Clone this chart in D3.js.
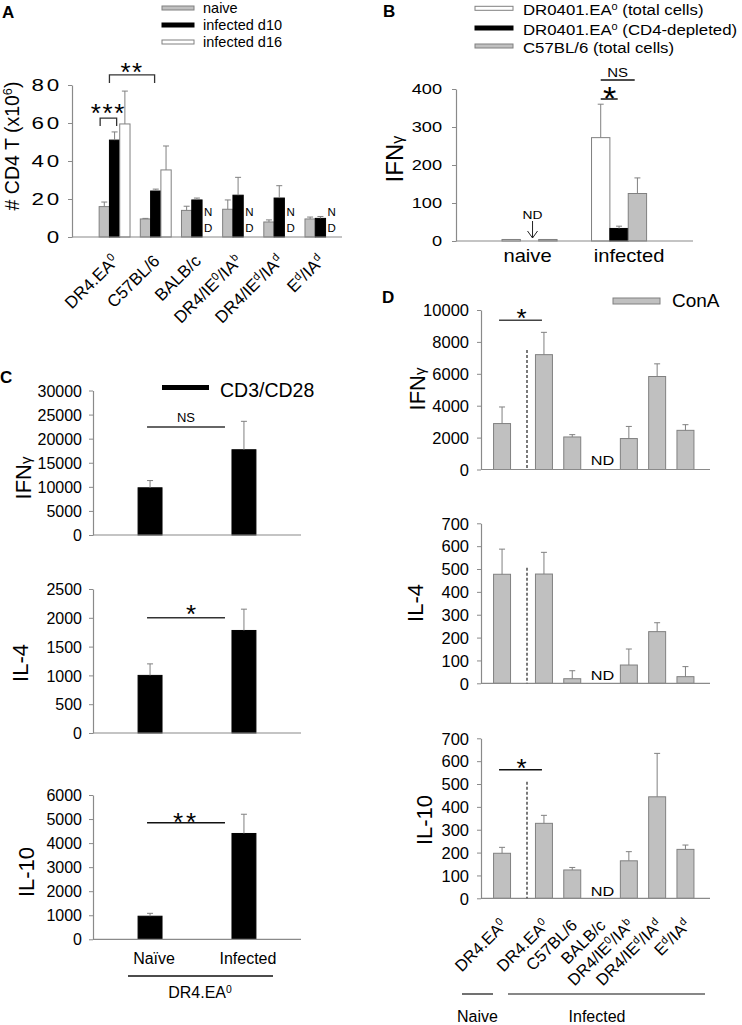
<!DOCTYPE html>
<html><head><meta charset="utf-8">
<script src="https://cdn.jsdelivr.net/npm/d3@7"></script>
<style>
body{margin:0;background:#fff}
svg{display:block}
text{font-family:"Liberation Sans",Arial,sans-serif;fill:#000}
</style>
</head><body>
<svg id="c" width="742" height="1025"></svg>
<script>
// ---------------- DATA ----------------
// Panel A: # CD4 T (x10^6)
const A_strains = ["DR4.EA^0","C57BL/6","BALB/c","DR4/IE^0/IA^b","DR4/IE^d/IA^d","E^d/IA^d"];
const A_series = ["naive","infected d10","infected d16"];
const A_naive    = [16, 9.5, 14, 14.6, 7.9, 9.5];
const A_naiveErr = [2.4, 0.3, 2.2, 4.9, 1.1, 1.0];
const A_d10      = [51, 24.2, 19.5, 22, 20.5, 9.8];
const A_d10Err   = [4.3, 1.0, 1.0, 9.4, 6.5, 1.0];
const A_d16      = [59.5, 35.3, null, null, null, null];
const A_d16Err   = [17.3, 12.6, null, null, null, null];
const A_ticks = [0,20,40,60,80];

// Panel B: IFNγ
const B_groups = ["naive","infected"];
const B_series = ["DR0401.EA^0 (total cells)","DR0401.EA^0 (CD4-depleted)","C57BL/6 (total cells)"];
const B_total     = [4, 272];
const B_totalErr  = [0, 88];
const B_depleted  = [null, 33];
const B_depletedErr = [0, 6];
const B_c57       = [4, 125];
const B_c57Err    = [0, 41];
const B_ticks = [0,100,200,300,400];

// Panel C: CD3/CD28, DR4.EA0
const C_groups = ["Naïve","Infected"];
const C_ifng = [9800, 17700],  C_ifngErr = [1500, 5900];
const C_il4  = [1000, 1780],   C_il4Err  = [200, 370];
const C_il10 = [960, 4400],    C_il10Err = [120, 800];
const C_ifngTicks = [0,5000,10000,15000,20000,25000,30000];
const C_il4Ticks  = [0,500,1000,1500,2000,2500];
const C_il10Ticks = [0,1000,2000,3000,4000,5000,6000];

// Panel D: ConA
const D_naiveStrains = ["DR4.EA^0"];
const D_infStrains = ["DR4.EA^0","C57BL/6","BALB/c","DR4/IE^0/IA^b","DR4/IE^d/IA^d","E^d/IA^d"];
const D_ifngNaive = [2880], D_ifngNaiveErr = [1040];
const D_ifngInf = [7200, 2040, null, 1940, 5830, 2455];
const D_ifngInfErr = [1400, 145, null, 760, 795, 355];
const D_il4Naive = [477], D_il4NaiveErr = [110];
const D_il4Inf = [478, 20, null, 80, 226, 29];
const D_il4InfErr = [95, 35, null, 70, 39, 44];
const D_il10Naive = [197], D_il10NaiveErr = [26];
const D_il10Inf = [328, 124, null, 164, 444, 214];
const D_il10InfErr = [35, 11, null, 40, 190, 19];
const D_ifngTicks = [0,2000,4000,6000,8000,10000];
const D_ilTicks = [0,100,200,300,400,500,600,700];

// ---------------- HELPERS ----------------
const svg = d3.select("#c");
const AXC = "#8a8a8a";
const GREY = "#c0c0c0";

function rich(t, s){
  s.split(/(\^.|~.)/).forEach(p=>{
    if(!p) return;
    if(p[0]==='^') t.append("tspan").attr("baseline-shift","super").attr("font-size","65%").text(p[1]);
    else if(p[0]==='~') t.append("tspan").attr("font-size","68%").text(p[1]);
    else t.append("tspan").text(p);
  });
}
function txt(g,x,y,s,o={}){
  let tr = `translate(${x},${y})`;
  if(o.rot) tr += ` rotate(${o.rot})`;
  if(o.sx) tr += ` scale(${o.sx},1)`;
  const t = g.append("text").attr("transform",tr)
    .attr("font-size",o.size||14).attr("text-anchor",o.anchor||"start");
  if(o.weight) t.attr("font-weight",o.weight);
  if(o.ls!=null) t.attr("letter-spacing",o.ls);
  rich(t,s);
  return t;
}
function line(g,x1,y1,x2,y2,o={}){
  const l = g.append("line").attr("x1",x1).attr("y1",y1).attr("x2",x2).attr("y2",y2)
    .attr("stroke",o.c||AXC).attr("stroke-width",o.w||1.2);
  if(o.dash) l.attr("stroke-dasharray",o.dash);
  return l;
}
function stars(g,x,yc,n,size,ls){
  return txt(g,x,yc+0.57*size,"*".repeat(n),{size,anchor:"middle",ls:ls||0});
}
function leftAxis(g,x,y,ticks,o){
  const ax = g.append("g").attr("transform",`translate(${x},0)`)
    .call(d3.axisLeft(y).tickValues(ticks).tickSize(4).tickSizeOuter(0).tickFormat(d3.format("d")));
  ax.attr("font-family",null).attr("font-size",null);
  ax.select(".domain").attr("stroke",AXC).attr("stroke-width",1.2);
  ax.selectAll(".tick line").attr("stroke",AXC);
  ax.selectAll(".tick text").attr("x",null).attr("dy","0.35em")
    .attr("transform",`translate(${-o.pad},0) scale(${o.sx||1},1)`)
    .attr("font-size",o.size).attr("fill","#000")
    .attr("letter-spacing",o.ls!=null?o.ls:null);
  return ax;
}
function bar(g,x,w,y,v,e,fill,stroke){
  if(v==null) return;
  g.append("rect").attr("x",x).attr("width",w).attr("y",y(v)).attr("height",y(0)-y(v))
    .attr("fill",fill).attr("stroke",stroke).attr("stroke-width",1);
  if(e){
    const cx = x+w/2;
    line(g,cx,y(v),cx,y(v+e),{c:"#808080",w:1});
    line(g,cx-3,y(v+e),cx+3,y(v+e),{c:"#808080",w:1});
  }
}

// ---------------- PANEL A ----------------
const gA = svg.append("g");
txt(gA,2,18,"A",{size:17,weight:"bold"});
const yA = d3.scaleLinear().domain([0,80]).range([237,85]);
const xA = d3.scaleBand().domain(A_strains).range([94,341]).paddingInner(0.25).paddingOuter(0.125);
const sA = d3.scaleBand().domain(A_series).range([0,xA.bandwidth()]);
const A_style = {"naive":[GREY,"#808080"],"infected d10":["#000","#000"],"infected d16":["#fff","#808080"]};
const A_vals = [[A_naive,A_naiveErr],[A_d10,A_d10Err],[A_d16,A_d16Err]];
A_series.forEach((s,k)=>{
  A_strains.forEach((st,i)=>{
    bar(gA,xA(st)+sA(s),sA.bandwidth(),yA,A_vals[k][0][i],A_vals[k][1][i],A_style[s][0],A_style[s][1]);
  });
});
A_strains.forEach((st,i)=>{
  if(A_d16[i]==null){
    const x = xA(st)+sA("infected d16")+2;
    txt(gA,x,yA(0)-21,"N",{size:11.5});
    txt(gA,x,yA(0)-5,"D",{size:11.5});
  }
  txt(gA,xA(st)+xA.bandwidth()/2+5,yA(0)+25,st,{size:17,anchor:"end",rot:-45});
});
leftAxis(gA,72,yA,A_ticks,{pad:10,size:16,sx:1.4,ls:2});
line(gA,72,yA(0),342,yA(0));
// legend A
A_series.forEach((s,k)=>{
  const yy = 8+17*k;
  gA.append("rect").attr("x",162).attr("y",yy-2).attr("width",32).attr("height",4)
    .attr("fill",A_style[s][0]).attr("stroke",A_style[s][1]).attr("stroke-width",1);
  txt(gA,203,yy+5,s,{size:14.5});
});
// significance A
{
  const l1 = xA(A_strains[0])+sA("naive")+1, r1 = xA(A_strains[0])+sA("infected d10")+sA.bandwidth()*0.7;
  const yb = yA(62.6), yl = yA(58.4);
  gA.append("path").attr("d",`M${l1},${yl}V${yb}H${r1}V${yl}`).attr("fill","none").attr("stroke","#333").attr("stroke-width",1.3);
  stars(gA,(l1+r1)/2,107,3,26,1.6);
  const l2 = xA(A_strains[0])+sA("infected d10"), r2 = xA(A_strains[1])+sA("infected d10")+4;
  const yb2 = yA(85.3), yl2 = yA(81.1);
  gA.append("path").attr("d",`M${l2},${yl2}V${yb2}H${r2}V${yl2}`).attr("fill","none").attr("stroke","#333").attr("stroke-width",1.3);
  stars(gA,(l2+r2)/2,66,2,26,1.3);
}
txt(gA,19,146,"# CD4 T (x10^6)",{size:19.5,anchor:"middle",rot:-90});

// ---------------- PANEL B ----------------
const gB = svg.append("g");
txt(gB,383,17,"B",{size:17,weight:"bold"});
const yB = d3.scaleLinear().domain([0,400]).range([241,89]);
const xB = d3.scaleBand().domain(B_groups).range([485,663.6]).paddingInner(0.385).paddingOuter(0.19);
const sB = d3.scaleBand().domain(B_series).range([0,xB.bandwidth()]);
const B_style = [["#fff","#808080"],["#000","#000"],[GREY,"#808080"]];
const B_vals = [[B_total,B_totalErr],[B_depleted,B_depletedErr],[B_c57,B_c57Err]];
B_series.forEach((s,k)=>{
  B_groups.forEach((gname,i)=>{
    bar(gB,xB(gname)+sB(s),sB.bandwidth(),yB,B_vals[k][0][i],B_vals[k][1][i],B_style[k][0],B_style[k][1]);
  });
});
leftAxis(gB,456,yB,B_ticks,{pad:14,size:14,sx:1.3});
line(gB,456,yB(0),693,yB(0));
const B_labOff = [-2, 10];
B_groups.forEach((gname,i)=>{
  txt(gB,xB(gname)+xB.bandwidth()/2+B_labOff[i],262,gname,{size:18,anchor:"middle",sx:1.12});
});
B_series.forEach((s,k)=>{
  const yy = [8.3,28,46][k];
  gB.append("rect").attr("x",475).attr("y",yy-2).attr("width",38).attr("height",4)
    .attr("fill",B_style[k][0]).attr("stroke",B_style[k][1]).attr("stroke-width",1);
  txt(gB,523,yy+6.5,s,{size:15,sx:1.12});
});
// ND arrow
{
  const cx = xB("naive")+sB(B_series[1])+sB.bandwidth()/2+3;
  txt(gB,cx,218.5,"ND",{size:11.5,anchor:"middle",sx:1.2});
  line(gB,cx,221,cx,yB(0)-3,{c:"#222",w:1});
  gB.append("path").attr("d",`M${cx-5},${yB(0)-10}L${cx},${yB(0)-3}L${cx+5},${yB(0)-10}`).attr("fill","none").attr("stroke","#222").attr("stroke-width",1);
  const x1 = xB("infected")+sB(B_series[0])+sB.bandwidth()/2;
  line(gB,x1,99,x1+17,99,{c:"#111",w:1.5});
  stars(gB,x1+9,91,1,34,0);
  line(gB,x1,80,x1+34,80,{c:"#111",w:1.5});
  txt(gB,x1+17,77,"NS",{size:12,anchor:"middle",sx:1.25});
}
txt(gB,403,159,"IFN~γ",{size:24,anchor:"middle",rot:-90});

// ---------------- PANEL C ----------------
const gC = svg.append("g");
txt(gC,0,383,"C",{size:17,weight:"bold"});
gC.append("rect").attr("x",162).attr("y",385).attr("width",47).attr("height",5).attr("fill","#000");
txt(gC,220,397,"CD3/CD28",{size:19.5});
const xC = d3.scaleBand().domain(C_groups).range([93,301]).paddingInner(0.745).paddingOuter(0.48);
function cPanel(vals,errs,ticks,r,label,lx,ly){
  const y = d3.scaleLinear().domain([0,ticks[ticks.length-1]]).range(r);
  C_groups.forEach((c,i)=> bar(gC,xC(c),xC.bandwidth(),y,vals[i],errs[i],"#000","#000"));
  leftAxis(gC,93,y,ticks,{pad:11,size:16});
  line(gC,93,y(0),301,y(0));
  txt(gC,lx,ly,label,{size:22,anchor:"middle",rot:-90});
  return y;
}
const yC1 = cPanel(C_ifng,C_ifngErr,C_ifngTicks,[535,390.5],"IFN~γ",31,478);
const yC2 = cPanel(C_il4,C_il4Err,C_il4Ticks,[733,589],"IL-4",28,663);
const yC3 = cPanel(C_il10,C_il10Err,C_il10Ticks,[939.3,795],"IL-10",34,872);
{
  const l = xC(C_groups[0])+xC.bandwidth()/2-3, r = xC(C_groups[1])-7;
  line(gC,l,427,r,427,{c:"#333",w:1.5});
  txt(gC,(l+r)/2,421.7,"NS",{size:13,anchor:"middle"});
  line(gC,l,yC2(2000),r,yC2(2000),{c:"#333",w:1.5});
  stars(gC,(l+r)/2+5,608,1,26,0);
  line(gC,l,yC3(4850),r,yC3(4850),{c:"#111",w:1.5});
  stars(gC,(l+r)/2,816.5,2,26,3);
  C_groups.forEach(c=> txt(gC,xC(c)+xC.bandwidth()/2+4,964,c,{size:16,anchor:"middle"}));
  line(gC,128,976,273,976,{c:"#111",w:1.3});
  txt(gC,200,998,"DR4.EA^0",{size:16,anchor:"middle"});
}

// ---------------- PANEL D ----------------
const gD = svg.append("g");
txt(gD,382,303,"D",{size:17,weight:"bold"});
gD.append("rect").attr("x",613).attr("y",298).attr("width",47).attr("height",6)
  .attr("fill",GREY).attr("stroke","#808080").attr("stroke-width",1);
txt(gD,672,307,"ConA",{size:19});
const xDn = d3.scaleBand().domain(D_naiveStrains).range([487.9,516.2]).paddingInner(0.4).paddingOuter(0.2);
const xDi = d3.scaleBand().domain(D_infStrains).range([529.8,699.6]).paddingInner(0.4).paddingOuter(0.2);
function dPanel(nv,ne,iv,ie,ticks,r,label,lx,ly,dashTop,ndBase){
  const y = d3.scaleLinear().domain([0,ticks[ticks.length-1]]).range(r);
  D_naiveStrains.forEach((s,i)=> bar(gD,xDn(s),xDn.bandwidth(),y,nv[i],ne[i],GREY,"#808080"));
  D_infStrains.forEach((s,i)=>{
    if(iv[i]==null) txt(gD,xDi(s)+xDi.bandwidth()/2+2,ndBase,"ND",{size:13,anchor:"middle",sx:1.25});
    else bar(gD,xDi(s),xDi.bandwidth(),y,iv[i],ie[i],GREY,"#808080");
  });
  leftAxis(gD,481,y,ticks,{pad:12,size:16.5});
  line(gD,481,y(0),710,y(0));
  line(gD,527,y(dashTop),527,y(0),{c:"#222",w:1.2,dash:"3,2"});
  txt(gD,lx,ly,label,{size:22,anchor:"middle",rot:-90});
  return y;
}
const yD1 = dPanel(D_ifngNaive,D_ifngNaiveErr,D_ifngInf,D_ifngInfErr,D_ifngTicks,[469.5,310],"IFN~γ",425,389,7500,465);
const yD2 = dPanel(D_il4Naive,D_il4NaiveErr,D_il4Inf,D_il4InfErr,D_ilTicks,[683.3,523.3],"IL-4",423,603,505,680);
const yD3 = dPanel(D_il10Naive,D_il10NaiveErr,D_il10Inf,D_il10InfErr,D_ilTicks,[898.3,738.3],"IL-10",432,820,510,896);
{
  const l = xDn(D_naiveStrains[0])+xDn.bandwidth()/2-3, r = xDi(D_infStrains[0])+xDi.bandwidth()/2-2;
  line(gD,l,yD1(9350),r,yD1(9350),{c:"#444",w:1.5});
  stars(gD,(l+r)/2+1,312,1,26,0);
  line(gD,l,yD3(562),r,yD3(562),{c:"#111",w:1.5});
  stars(gD,(l+r)/2+1,762.5,1,26,0);
  D_naiveStrains.forEach(s=> txt(gD,xDn(s)+xDn.bandwidth()/2+6,yD3(0)+28,s,{size:16.5,anchor:"end",rot:-45}));
  D_infStrains.forEach(s=> txt(gD,xDi(s)+xDi.bandwidth()/2+6,yD3(0)+28,s,{size:16.5,anchor:"end",rot:-45}));
  line(gD,462,994,493,994,{c:"#111",w:1.2});
  line(gD,508,994,705,994,{c:"#111",w:1.2});
  txt(gD,477.5,1022,"Naive",{size:16,anchor:"middle"});
  txt(gD,597,1022,"Infected",{size:16,anchor:"middle"});
}
</script>
</body></html>
